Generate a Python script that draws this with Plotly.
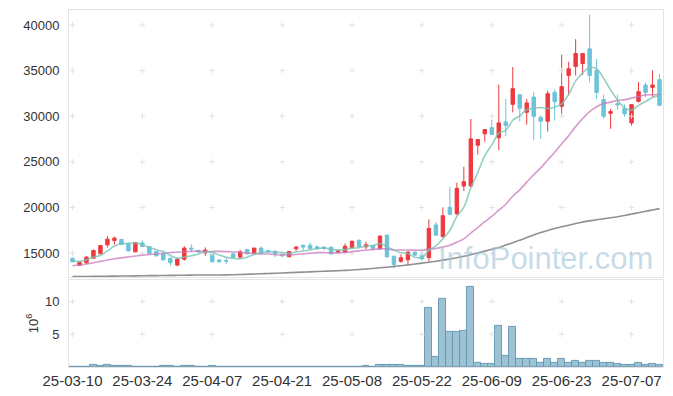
import plotly.graph_objects as go
import pandas as pd

dates = [
    "25-03-10", "25-03-11", "25-03-12", "25-03-13", "25-03-14", "25-03-17", "25-03-18", "25-03-19",
    "25-03-20", "25-03-21", "25-03-24", "25-03-25", "25-03-26", "25-03-27", "25-03-28", "25-03-31",
    "25-04-01", "25-04-02", "25-04-03", "25-04-04", "25-04-07", "25-04-08", "25-04-09", "25-04-10",
    "25-04-11", "25-04-14", "25-04-15", "25-04-16", "25-04-17", "25-04-18", "25-04-21", "25-04-22",
    "25-04-23", "25-04-24", "25-04-25", "25-04-28", "25-04-29", "25-04-30", "25-05-02", "25-05-07",
    "25-05-08", "25-05-09", "25-05-12", "25-05-13", "25-05-14", "25-05-15", "25-05-16", "25-05-19",
    "25-05-20", "25-05-21", "25-05-22", "25-05-23", "25-05-26", "25-05-27", "25-05-28", "25-05-29",
    "25-05-30", "25-06-02", "25-06-04", "25-06-05", "25-06-09", "25-06-10", "25-06-11", "25-06-12",
    "25-06-13", "25-06-16", "25-06-17", "25-06-18", "25-06-19", "25-06-20", "25-06-23", "25-06-24",
    "25-06-25", "25-06-26", "25-06-27", "25-06-30", "25-07-01", "25-07-02", "25-07-03", "25-07-04",
    "25-07-07", "25-07-08", "25-07-09", "25-07-10", "25-07-11",
]

opens = [
    14420, 13660, 13940, 14450, 14920, 15910, 16390, 16500, 16060, 15140,
    16120, 15730, 15190, 14920, 14420, 13690, 14340, 15550, 15290, 15030,
    14860, 14240, 14200, 14920, 14560, 15400, 15000, 15550, 15290, 15220,
    14890, 14600, 15470, 15870, 15870, 15690, 15660, 15660, 15110, 15110,
    15580, 16420, 15690, 15840, 15470, 16970, 14670, 14100, 14270, 15110,
    14780, 14500, 18090, 16820, 20020, 19300, 22360, 22360, 26820, 28070,
    28750, 27630, 29380, 31300, 32360, 30430, 32110, 29880, 29450, 32610,
    31090, 34470, 35450, 35780, 37390, 35020, 31820, 30320, 31380, 30830,
    29270, 31630, 33420, 33160, 34000,
]
highs = [
    14530, 14000, 14670, 15400, 15880, 16860, 16820, 16550, 16170, 16200,
    16390, 15760, 15250, 15220, 14530, 14420, 15760, 15980, 15350, 15620,
    14900, 14350, 14450, 15000, 15360, 15450, 15600, 15730, 15350, 15250,
    15030, 15220, 15800, 15900, 16170, 15840, 15760, 15700, 15440, 16060,
    16350, 16450, 16270, 15900, 16970, 17050, 14700, 14850, 15220, 15150,
    15140, 18700, 18420, 20020, 22280, 22720, 24470, 29700, 27500, 28600,
    29600, 33450, 31890, 35390, 32400, 31890, 32610, 30070, 32800, 32910,
    36730, 35970, 38450, 36900, 41100, 36260, 32360, 30800, 32360, 31270,
    31300, 33750, 33700, 35020, 34620,
]
lows = [
    13980, 13580, 13830, 14420, 14900, 15620, 15950, 15900, 15180, 15100,
    15700, 14940, 14600, 14160, 13620, 13550, 14160, 15140, 15080, 14670,
    14000, 14000, 13830, 14480, 14500, 14900, 14950, 14950, 15080, 14560,
    14530, 14560, 15220, 15290, 15440, 15360, 15330, 14880, 14960, 15070,
    15550, 15650, 15440, 15400, 15400, 14480, 13330, 13950, 13800, 14750,
    14160, 14100, 16900, 16700, 19150, 19200, 21800, 22200, 25800, 27200,
    27950, 26300, 27810, 30430, 29450, 29090, 27370, 27520, 28320, 29520,
    30070, 32290, 34470, 34510, 33700, 31890, 29740, 28620, 30720, 29930,
    28980, 31500, 32110, 32110, 31100,
]
closes = [
    14050, 13980, 14560, 15290, 15840, 16530, 16640, 15950, 15250, 16170,
    15730, 14970, 14710, 14270, 13980, 14340, 15550, 15440, 15110, 15330,
    14050, 14050, 14130, 14530, 15140, 14920, 15550, 15030, 15110, 14920,
    14710, 15180, 15660, 15660, 15510, 15510, 15510, 14920, 15220, 15760,
    16310, 15690, 15910, 15470, 16860, 14600, 13760, 14500, 15110, 14780,
    14380, 17700, 16970, 19100, 19260, 22100, 22830, 27520, 27440, 28540,
    28000, 29270, 28980, 33020, 30870, 31460, 29990, 29450, 32470, 31600,
    33240, 35200, 36870, 36870, 34470, 32610, 29990, 30510, 31240, 30260,
    31270, 32690, 32610, 33420, 31190,
]
# volume in millions of shares
volumes = [
    0.02, 0.02, 0.05, 0.30, 0.10, 0.30, 0.15, 0.15, 0.15, 0.05,
    0.03, 0.03, 0.05, 0.10, 0.10, 0.05, 0.10, 0.10, 0.03, 0.05,
    0.10, 0.03, 0.02, 0.02, 0.03, 0.02, 0.02, 0.03, 0.02, 0.02,
    0.02, 0.02, 0.03, 0.02, 0.02, 0.02, 0.02, 0.03, 0.02, 0.03,
    0.03, 0.04, 0.10, 0.05, 0.28, 0.28, 0.28, 0.28, 0.15, 0.15,
    0.15, 9.1, 1.6, 10.4, 5.4, 5.4, 5.5, 12.3, 0.7, 0.55,
    0.4, 6.3, 1.7, 6.2, 1.3, 1.2, 1.2, 0.7, 1.3, 0.6,
    1.3, 0.7, 0.9, 0.6, 1.0, 0.9, 0.6, 0.6, 0.4, 0.3,
    0.3, 0.6, 0.3, 0.5, 0.3,
]
# moving-average values at the start of the window
ma5_head = [14160, 14100, 14270, 14550]
ma20_head = [13610, 13700, 13800, 13950, 14100, 14250, 14380, 14480, 14580, 14680,
             14780, 14850, 14920, 14990, 15050, 15100, 15150, 15190, 15220]
# long moving average (grey line)
ma_long = [
    12420, 12430, 12440, 12450, 12460, 12470, 12480, 12490, 12500, 12510,
    12520, 12530, 12540, 12550, 12560, 12570, 12580, 12590, 12600, 12610,
    12600, 12610, 12620, 12630, 12650, 12680, 12710, 12740, 12770, 12800,
    12830, 12860, 12890, 12920, 12950, 12980, 13010, 13040, 13070, 13110,
    13150, 13200, 13260, 13320, 13390, 13460, 13540, 13620, 13710, 13800,
    13900, 14000, 14110, 14230, 14360, 14500, 14660, 14830, 15020, 15220,
    15420, 15620, 15880, 16140, 16420, 16700, 16980, 17250, 17480, 17690,
    17880, 18060, 18250, 18400, 18530, 18650, 18760, 18870, 18990, 19130,
    19280, 19430, 19580, 19730, 19880,
]
price_ticks = [15000, 20000, 25000, 30000, 35000, 40000]
vol_ticks = [5, 10]
date_ticks = dates[::10]

cs = pd.Series(closes, dtype=float)
ma5 = cs.rolling(5).mean().tolist()
ma5[:len(ma5_head)] = ma5_head
ma20 = cs.rolling(20).mean().tolist()
ma20[:len(ma20_head)] = ma20_head

RED = "#ec3a3f"
BLUE = "#6cc3da"
TXT = "#333333"
FONT = "Liberation Sans, Arial, sans-serif"

fig = go.Figure()

# grid crosses
cross = dict(symbol="cross-thin", size=4, line=dict(color="#e2e2e2", width=1))
fig.add_trace(go.Scatter(
    x=[d for d in date_ticks for _ in price_ticks],
    y=[p for _ in date_ticks for p in price_ticks],
    mode="markers", xaxis="x", yaxis="y", hoverinfo="skip", showlegend=False, marker=cross,
))
fig.add_trace(go.Scatter(
    x=[d for d in date_ticks for _ in vol_ticks],
    y=[v for _ in date_ticks for v in vol_ticks],
    mode="markers", xaxis="x2", yaxis="y2", hoverinfo="skip", showlegend=False, marker=cross,
))

fig.add_trace(go.Scatter(x=dates, y=ma_long, mode="lines", xaxis="x", yaxis="y",
                         line=dict(color="rgba(125,125,125,0.85)", width=1.6, shape="spline"),
                         hoverinfo="skip", showlegend=False))
fig.add_trace(go.Scatter(x=dates, y=ma20, mode="lines", xaxis="x", yaxis="y",
                         line=dict(color="rgba(200,120,190,0.75)", width=1.6, shape="spline"),
                         hoverinfo="skip", showlegend=False))
fig.add_trace(go.Scatter(x=dates, y=ma5, mode="lines", xaxis="x", yaxis="y",
                         line=dict(color="rgba(120,195,180,0.8)", width=1.6, shape="spline"),
                         hoverinfo="skip", showlegend=False))

fig.add_trace(go.Candlestick(
    x=dates, open=opens, high=highs, low=lows, close=closes,
    xaxis="x", yaxis="y", whiskerwidth=0, showlegend=False,
    increasing=dict(line=dict(color=RED, width=1), fillcolor=RED),
    decreasing=dict(line=dict(color=BLUE, width=1), fillcolor=BLUE),
))

fig.add_trace(go.Bar(
    x=dates, y=volumes, xaxis="x2", yaxis="y2", showlegend=False,
    marker=dict(color="rgba(140,183,204,0.85)", line=dict(color="rgba(100,150,176,0.9)", width=1)),
))

axis_common = dict(showline=True, mirror=True, linecolor="#e4e4e4", linewidth=1,
                   showgrid=False, zeroline=False, ticks="", automargin=False)

# the page body adds an 8px offset, so the figure is sized to fit inside the window
fig.update_layout(
    width=665, height=388,
    margin=dict(l=61, r=10, t=2, b=29, autoexpand=False),
    paper_bgcolor="white", plot_bgcolor="white",
    font=dict(family=FONT, size=13, color=TXT),
    bargap=0,
    showlegend=False,
    xaxis=dict(domain=[0, 1], anchor="y", type="category", categoryorder="array",
               categoryarray=dates, range=[-0.5, len(dates) - 0.5],
               showticklabels=False, rangeslider=dict(visible=False), matches="x2",
               **axis_common),
    xaxis2=dict(domain=[0, 1], anchor="y2", type="category", categoryorder="array",
                categoryarray=dates, range=[-0.5, len(dates) - 0.5],
                tickmode="array", tickvals=date_ticks, ticktext=date_ticks,
                tickfont=dict(size=15, color=TXT), tickangle=0,
                **axis_common),
    yaxis=dict(domain=[0.252, 1], anchor="x", range=[12380, 41640],
               tickmode="array", tickvals=price_ticks, ticktext=[str(t) for t in price_ticks],
               tickfont=dict(size=13, color=TXT), ticklabelstandoff=6,
               **axis_common),
    yaxis2=dict(domain=[0, 0.244], anchor="x2", range=[0, 13.3],
                tickmode="array", tickvals=vol_ticks, ticktext=[str(v) for v in vol_ticks],
                tickfont=dict(size=13, color=TXT), ticklabelstandoff=6,
                title=dict(text="10<sup>6</sup>", font=dict(size=13, color=TXT), standoff=3),
                **axis_common),
    annotations=[dict(
        text="InfoPointer.com", xref="paper", yref="paper", x=0.802, y=0.305,
        xanchor="center", yanchor="middle", showarrow=False,
        font=dict(family=FONT, size=31, color="rgba(160,195,215,0.6)"),
    )],
)

fig.write_html("out.html")
